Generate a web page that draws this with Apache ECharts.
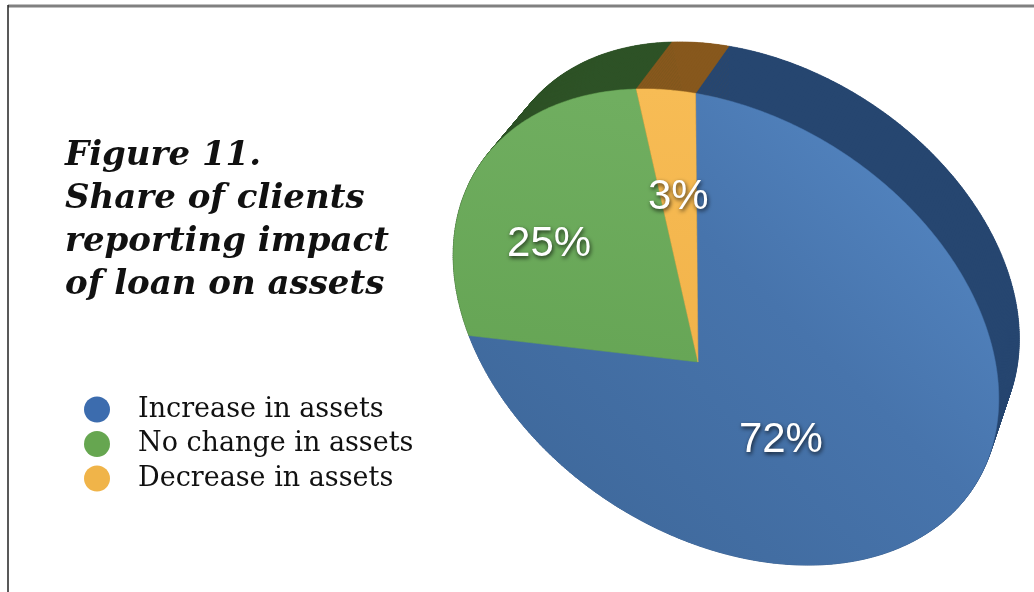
<!DOCTYPE html>
<html>
<head>
<meta charset="utf-8">
<script src="https://cdn.jsdelivr.net/npm/echarts@6/dist/echarts.min.js"></script>
<style>
  html, body { margin: 0; padding: 0; background: #ffffff; }
  #chart { position: absolute; left: 0; top: 0; width: 1034px; height: 592px; }
</style>
</head>
<body>
<div id="chart"></div>
<script>
// ---- data ----
const categories = ['Increase in assets', 'No change in assets', 'Decrease in assets'];
const shares = [72, 25, 3];
const titleLines = ['Figure 11.', 'Share of clients', 'reporting impact', 'of loan on assets'];

// ---- colours ----
const legendColors = ['#3c6cae', '#66a650', '#f0b449'];
const faceFills = [
  { type: 'linear', x: 0.9, y: 0.1, x2: 0.2, y2: 0.9,
    colorStops: [{ offset: 0, color: '#5486c2' }, { offset: 0.45, color: '#4774ac' }, { offset: 1, color: '#3f699c' }] },
  { type: 'linear', x: 0.5, y: 0, x2: 0.3, y2: 1,
    colorStops: [{ offset: 0, color: '#70ae60' }, { offset: 1, color: '#66a555' }] },
  { type: 'linear', x: 0.5, y: 0, x2: 0.5, y2: 1,
    colorStops: [{ offset: 0, color: '#f7bc55' }, { offset: 1, color: '#f2b34a' }] }
];
const sideFills = ['#264670', '#2e5226', '#87581d'];

// ---- tilted pie geometry (pixels) ----
const DEG = Math.PI / 180;
const face = { cx: 726, cy: 327, a: 295, b: 210, tilt: 32.8 * DEG };
const apex = [698, 362];          // where the slices meet on the front face
const rimTop = [695, 89];         // rim point at the 12 o'clock start angle
const back = { dx: 32, dy: -57, k: 0.958 };  // far face of the disc
const labelRadius = [0.41, 0.655, 0.65];
const labelTurn = [0, -2 * DEG, 0];

const ct = Math.cos(face.tilt), st = Math.sin(face.tilt);
function toDisk(px, py) {
  const rx = px - face.cx, ry = py - face.cy;
  return [(rx * ct + ry * st) / face.a, (-rx * st + ry * ct) / face.b];
}
function fromDisk(X, Y) {
  return [face.cx + face.a * X * ct - face.b * Y * st,
          face.cy + face.a * X * st + face.b * Y * ct];
}
// projective map of the unit disc that moves its centre onto the apex
const p = toDisk(apex[0], apex[1]);
const pl = Math.hypot(p[0], p[1]);
const dir = [p[0] / pl, p[1] / pl];
const sArc = Math.atanh(pl);
const ch = Math.cosh(sArc), sh = Math.sinh(sArc);
function boost(x, y, sg) {
  const par = x * dir[0] + y * dir[1];
  const perp = -x * dir[1] + y * dir[0];
  const par2 = ch * par + sg * sh;
  const w = sg * sh * par + ch;
  return [(par2 * dir[0] - perp * dir[1]) / w, (par2 * dir[1] + perp * dir[0]) / w];
}
const q = toDisk(rimTop[0], rimTop[1]);
const qn = Math.hypot(q[0], q[1]);
const q0 = boost(q[0] / qn, q[1] / qn, -1);
const rot0 = Math.atan2(q0[0], -q0[1]);

function frontPt(phi, r) {
  const t = phi + rot0;
  const b = boost(r * Math.sin(t), -r * Math.cos(t), 1);
  return fromDisk(b[0], b[1]);
}
function backPt(pt) {
  return [face.cx + back.dx + back.k * (pt[0] - face.cx),
          face.cy + back.dy + back.k * (pt[1] - face.cy)];
}

// slice angles, clockwise from 12 o'clock
const total = shares.reduce((s, v) => s + v, 0);
const bounds = [];
(function () {
  let acc = 0;
  shares.forEach(v => {
    bounds.push([acc / total * 2 * Math.PI, (acc + v) / total * 2 * Math.PI]);
    acc += v;
  });
})();
function rimPoints(i) {
  const [a0, a1] = bounds[i];
  const n = Math.max(6, Math.ceil((a1 - a0) / (0.5 * DEG)));
  const pts = [];
  for (let k = 0; k <= n; k++) pts.push(frontPt(a0 + (a1 - a0) * k / n, 1));
  return pts;
}

// far face and rim wall of every slice
function renderSide(params) {
  const i = params.dataIndex;
  const front = rimPoints(i);
  const backRim = front.map(backPt);
  const children = [];
  children.push({
    type: 'polygon', z2: 0,
    shape: { points: [backPt(apex)].concat(backRim) },
    style: { fill: sideFills[i] }
  });
  for (let k = 0; k < front.length - 1; k++) {
    children.push({
      type: 'polygon', z2: 1,
      shape: { points: [front[k], front[k + 1], backRim[k + 1], backRim[k]] },
      style: { fill: sideFills[i], stroke: sideFills[i], lineWidth: 0.6 }
    });
  }
  return { type: 'group', children: children };
}

// front face and percentage label of one slice
function makeFaceRenderer(i) {
  return function () {
    const front = rimPoints(i);
    const mid = (bounds[i][0] + bounds[i][1]) / 2 + labelTurn[i];
    const lp = frontPt(mid, labelRadius[i]);
    return {
      type: 'group',
      children: [
        {
          type: 'polygon',
          shape: { points: [apex].concat(front) },
          style: { fill: faceFills[i], stroke: faceFills[i].colorStops[1].color, lineWidth: 0.5 }
        },
        {
          type: 'text', z2: 10,
          style: {
            text: shares[i] + '%',
            x: lp[0], y: lp[1],
            fill: '#ffffff',
            font: '42px "Liberation Sans", Arial, sans-serif',
            align: 'center', verticalAlign: 'middle',
            textAlign: 'center', textVerticalAlign: 'middle',
            shadowColor: 'rgba(0,0,0,0.75)', shadowBlur: 4, shadowOffsetX: 1, shadowOffsetY: 2,
            textShadowColor: 'rgba(0,0,0,0.75)', textShadowBlur: 4, textShadowOffsetX: 1, textShadowOffsetY: 2
          }
        }
      ]
    };
  };
}

const series = [{
  type: 'custom',
  name: 'rim',
  coordinateSystem: 'none',
  z: 1,
  silent: true,
  data: shares.map((v, i) => ({ value: [i, v] })),
  renderItem: renderSide
}];
categories.forEach((name, i) => {
  series.push({
    type: 'custom',
    name: name,
    coordinateSystem: 'none',
    z: 2,
    itemStyle: { color: legendColors[i] },
    data: [{ value: [i, shares[i]] }],
    renderItem: makeFaceRenderer(i)
  });
});

const chart = echarts.init(document.getElementById('chart'), null, { renderer: 'canvas' });
chart.setOption({
  backgroundColor: '#ffffff',
  animation: false,
  title: {
    text: titleLines.join('\n'),
    left: 60, top: 130,
    textStyle: {
      fontFamily: '"DejaVu Serif", serif',
      fontStyle: 'italic', fontWeight: 'bold',
      fontSize: 34, lineHeight: 43, color: '#111111'
    }
  },
  legend: {
    data: categories,
    orient: 'vertical',
    left: 79, top: 391,
    icon: 'circle',
    itemWidth: 26, itemHeight: 26,
    itemGap: 7.5,
    selectedMode: false,
    textStyle: {
      fontFamily: '"DejaVu Serif", serif', fontSize: 27, lineHeight: 26,
      color: '#111111', padding: [0, 0, 0, 23]
    }
  },
  graphic: [
    { type: 'line', shape: { x1: 8, y1: 6, x2: 1034, y2: 6 }, style: { stroke: '#808080', lineWidth: 3 } },
    { type: 'line', shape: { x1: 8, y1: 5, x2: 8, y2: 592 }, style: { stroke: '#222222', lineWidth: 1.5 } }
  ],
  series: series
});
</script>
</body>
</html>
